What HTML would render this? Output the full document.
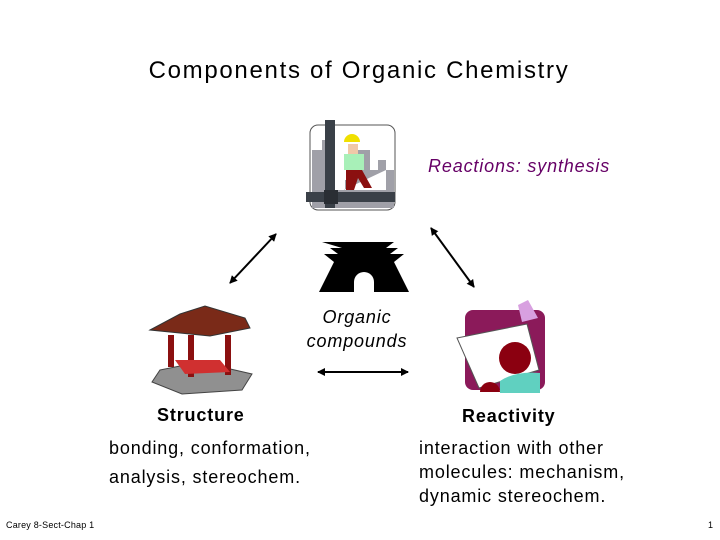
<!DOCTYPE html>
<html><head><meta charset="utf-8"><style>
body{margin:0;width:720px;height:540px;background:#fff;overflow:hidden}
svg{display:block}
text{font-family:"Liberation Sans",sans-serif;letter-spacing:0.85px}
</style></head><body>
<svg width="720" height="540" viewBox="0 0 720 540">
<defs><marker id="a" markerWidth="8" markerHeight="8" refX="7" refY="4" orient="auto-start-reverse" markerUnits="userSpaceOnUse"><path d="M0,0 L8,4 L0,8 z" fill="#000"/></marker></defs>
<text x="359" y="78" font-size="24" text-anchor="middle" style="letter-spacing:1.7px">Components of Organic Chemistry</text>
<!-- construction icon -->
<rect x="310" y="125" width="85" height="85" rx="8" fill="#fff" stroke="#555"/>
<path d="M312,205 V150 h10 v-10 h8 v60 h15 v-20 h10 v-30 h15 v20 h8 v-10 h8 v40 h8 v-30 h-8 z" fill="#a0a0a8"/>
<rect x="312" y="190" width="82" height="18" fill="#a0a0a8"/>
<rect x="325" y="120" width="10" height="88" fill="#3a4048"/>
<rect x="306" y="192" width="89" height="10" fill="#3a4048"/>
<rect x="324" y="190" width="14" height="14" fill="#2a2e34"/>
<path d="M344,142 a8,8 0 0 1 16,0 z" fill="#f0e000"/>
<rect x="348" y="144" width="10" height="10" fill="#f0c8a8"/>
<rect x="344" y="154" width="20" height="16" fill="#a8f0b8"/>
<path d="M346,170 h16 l10,18 h-8 l-6,-10 l-4,12 h-8 z" fill="#8b1010"/>
<text x="428" y="172" font-size="18" font-style="italic" fill="#660066">Reactions: synthesis</text>
<!-- gate -->
<path d="M322,242 h72 l-8,6 h12 l-8,6 h14 l-10,8 l15,30 h-35 v-10 a10,10 0 0 0 -20,0 v10 h-35 l15,-30 l-10,-8 h14 l-8,-6 h12 z" fill="#000"/>
<text x="357" y="323" font-size="18" font-style="italic" text-anchor="middle">Organic</text>
<text x="357" y="347" font-size="18" font-style="italic" text-anchor="middle">compounds</text>
<line x1="230" y1="283" x2="276" y2="234" stroke="#000" stroke-width="2" marker-start="url(#a)" marker-end="url(#a)"/>
<line x1="431" y1="228" x2="474" y2="287" stroke="#000" stroke-width="2" marker-start="url(#a)" marker-end="url(#a)"/>
<line x1="318" y1="372" x2="408" y2="372" stroke="#000" stroke-width="2" marker-start="url(#a)" marker-end="url(#a)"/>
<!-- pavilion -->
<path d="M160,370 l40,-8 l52,12 l-10,16 l-60,4 l-30,-12 z" fill="#909090" stroke="#444"/>
<rect x="168" y="335" width="6" height="32" fill="#8b1010"/>
<rect x="225" y="335" width="6" height="40" fill="#8b1010"/>
<rect x="188" y="335" width="6" height="42" fill="#8b1010"/>
<path d="M175,360 l45,0 l10,12 l-45,2 z" fill="#d03030"/>
<path d="M150,330 l30,-16 l25,-8 l40,12 l5,10 l-40,8 z" fill="#7a2a18" stroke="#333"/>
<!-- reactivity icon -->
<rect x="465" y="310" width="80" height="80" rx="8" fill="#8b1a5a"/>
<path d="M457,338 l70,-14 l12,46 l-60,18 z" fill="#fff" stroke="#555"/>
<path d="M518,305 l10,-5 l10,18 l-16,4 z" fill="#d8a0e0"/>
<circle cx="515" cy="358" r="16" fill="#8b0010"/>
<path d="M500,393 v-12 q15,-10 40,-8 v20 z" fill="#60d0c0"/>
<path d="M480,392 a10,10 0 0 1 20,0 z" fill="#8b0010"/>
<text x="157" y="421" font-size="18" font-weight="bold">Structure</text>
<text x="462" y="422" font-size="18" font-weight="bold">Reactivity</text>
<text x="109" y="454" font-size="18">bonding, conformation,</text>
<text x="109" y="483" font-size="18">analysis, stereochem.</text>
<text x="419" y="454" font-size="18">interaction with other</text>
<text x="419" y="478" font-size="18">molecules: mechanism,</text>
<text x="419" y="502" font-size="18">dynamic stereochem.</text>
<text x="6" y="528" font-size="9" style="letter-spacing:0.2px">Carey 8-Sect-Chap 1</text>
<text x="708" y="528" font-size="9">1</text>
</svg>
</body></html>
